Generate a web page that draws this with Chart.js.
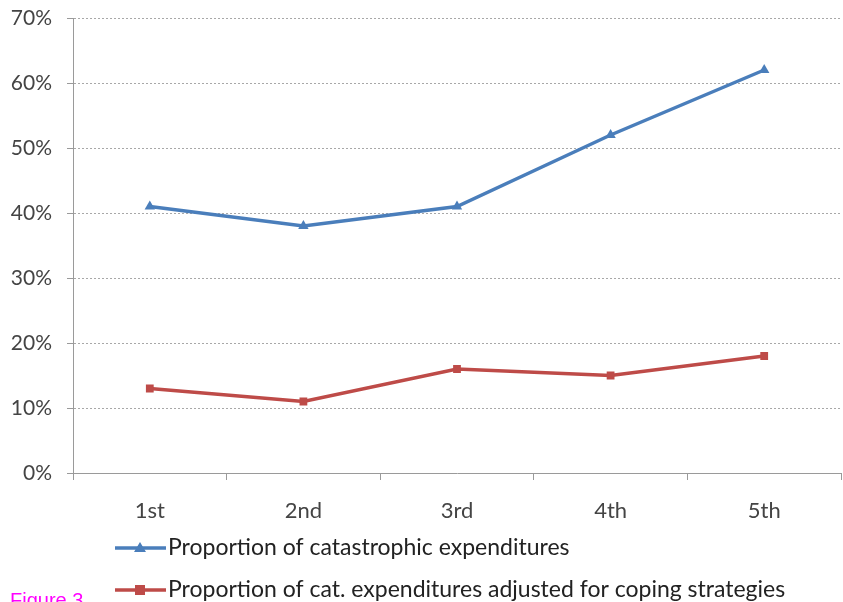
<!DOCTYPE html>
<html>
<head>
<meta charset="utf-8">
<script src="https://cdn.jsdelivr.net/npm/chart.js@4/dist/chart.umd.min.js"></script>
<style>
  html, body { margin: 0; padding: 0; background: #fff; }
  #wrap { position: relative; width: 843px; height: 602px; }
</style>
</head>
<body>
<div id="wrap"><canvas id="c"></canvas></div>
<script>
// Expenditure quintiles
const quintiles = ['1st', '2nd', '3rd', '4th', '5th'];
// Share of households (%) facing catastrophic expenditures
const catastrophic = [41, 38, 41, 52, 62];
// Same share after adjusting for coping strategies
const adjusted = [13, 11, 16, 15, 18];
const yTicks = [0, 10, 20, 30, 40, 50, 60, 70];

const FONT = "Lato, 'Open Sans', sans-serif";
const BLUE = '#4a7ebb';
const RED = '#be4b48';

// Two-row legend under the axis, plus the figure caption
const legendAndCaption = {
  id: 'legendAndCaption',
  afterDraw(chart) {
    const ctx = chart.ctx;
    const rows = [548, 590];
    chart.data.datasets.forEach((ds, i) => {
      const y = rows[i];
      ctx.save();
      ctx.strokeStyle = ds.borderColor;
      ctx.lineWidth = 3.5;
      ctx.beginPath();
      ctx.moveTo(115, y);
      ctx.lineTo(166, y);
      ctx.stroke();
      ctx.fillStyle = ds.borderColor;
      if (ds.pointStyle === 'triangle') {
        ctx.beginPath();
        ctx.moveTo(140, y - 6);
        ctx.lineTo(146, y + 4);
        ctx.lineTo(134, y + 4);
        ctx.closePath();
        ctx.fill();
      } else {
        ctx.fillRect(135, y - 5, 10, 10);
      }
      ctx.fillStyle = '#222';
      ctx.font = '23px ' + FONT;
      ctx.textBaseline = 'middle';
      ctx.textAlign = 'left';
      ctx.fillText(ds.label, 168, y);
      ctx.restore();
    });
    ctx.save();
    ctx.fillStyle = '#ff00ff';
    ctx.font = "20px 'Liberation Sans', Arial, sans-serif";
    ctx.textBaseline = 'top';
    ctx.textAlign = 'left';
    ctx.fillText('Figure 3', 10, 591);
    ctx.restore();
  }
};

new Chart(document.getElementById('c'), {
  type: 'line',
  data: {
    labels: quintiles,
    datasets: [
      {
        label: 'Proportion of catastrophic expenditures',
        data: catastrophic,
        borderColor: BLUE,
        backgroundColor: BLUE,
        borderWidth: 3.5,
        pointStyle: 'triangle',
        pointRadius: 6,
        pointBorderWidth: 0,
        tension: 0
      },
      {
        label: 'Proportion of cat. expenditures adjusted for coping strategies',
        data: adjusted,
        borderColor: RED,
        backgroundColor: RED,
        borderWidth: 3.5,
        pointStyle: 'rect',
        pointRadius: 5.5,
        pointBorderWidth: 0,
        tension: 0
      }
    ]
  },
  options: {
    responsive: true,
    maintainAspectRatio: false,
    animation: false,
    layout: { autoPadding: false, padding: { top: 18, right: 2, left: 0, bottom: 0 } },
    plugins: { legend: { display: false }, tooltip: { enabled: false } },
    scales: {
      x: {
        offset: true,
        afterFit(scale) {
          scale.height = 129;
          scale.paddingLeft = 0;
          scale.paddingRight = 0;
        },
        grid: {
          offset: true,
          drawOnChartArea: false,
          drawTicks: true,
          tickLength: 7,
          tickColor: '#9a9a9a',
          lineWidth: 1
        },
        border: { display: true, color: '#9a9a9a', width: 1 },
        ticks: {
          color: '#444',
          font: { family: FONT, size: 22 },
          padding: 18
        }
      },
      y: {
        min: 0,
        max: 70,
        afterFit(scale) {
          scale.width = 73;
          scale.paddingTop = 0;
          scale.paddingBottom = 0;
        },
        afterBuildTicks(scale) { scale.ticks = yTicks.map(v => ({ value: v })); },
        grid: {
          color: ctx => ctx.tick && ctx.tick.value === 0 ? 'rgba(0,0,0,0)' : '#a8a8a8',
          lineWidth: 1,
          drawTicks: true,
          tickLength: 6,
          tickColor: '#9a9a9a'
        },
        border: { display: true, color: '#9a9a9a', width: 1, dash: [2, 2] },
        ticks: {
          color: '#444',
          font: { family: FONT, size: 21 },
          padding: 15,
          callback: v => v + '%'
        }
      }
    }
  },
  plugins: [legendAndCaption]
});
</script>
</body>
</html>
